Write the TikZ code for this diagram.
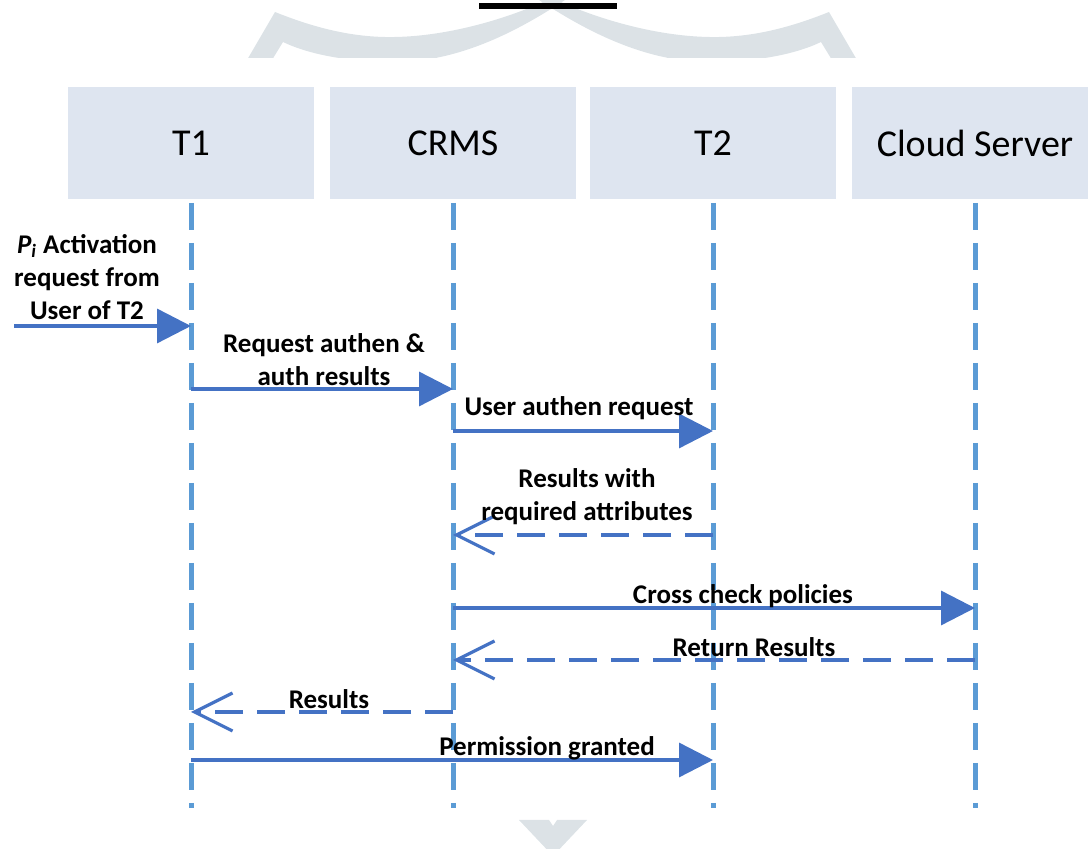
\documentclass[tikz,border=0pt]{standalone}
\usepackage{fontspec}
\setmainfont{Carlito}
\usetikzlibrary{arrows.meta}
\definecolor{hdr}{HTML}{DEE5F0}
\definecolor{lifec}{HTML}{5B9BD5}
\definecolor{msgc}{HTML}{4472C4}
\definecolor{wm}{HTML}{DCE2E6}
\begin{document}
\begin{tikzpicture}[x=0.5pt,y=-0.5pt,
  hdrbox/.style={fill=hdr, draw=none, minimum width=123pt, minimum height=56pt, inner sep=0pt, font=\fontsize{19}{23}\selectfont},
  lifeline/.style={draw=lifec, line width=2.5pt, dash pattern=on 13.5pt off 6.5pt},
  call/.style={draw=msgc, line width=1.7pt, -{Triangle[length=17pt,width=17pt]}},
  reply/.style={draw=msgc, line width=1.6pt, dash pattern=on 14pt off 7pt, -{Straight Barb[length=19pt,width=19pt]}},
  lbl/.style={align=center, inner sep=0pt, font=\fontsize{13.5}{16.5}\selectfont\bfseries},
  wmark/.style={fill=wm, draw=none}]
\clip (0,0) rectangle (1088,849);
% watermark fragments
\begin{scope}
  \clip (0,-5) rectangle (1088,58);
  \fill[wmark] (247,60) -- (275,12) .. controls (310,26) and (350,38) .. (395,37)
     .. controls (450,36) and (510,18) .. (552,-2) -- (568,-2)
     .. controls (520,30) and (460,62) .. (395,62)
     .. controls (350,62) and (310,55) .. (283,42) -- (272,60) -- cycle;
  \fill[wmark] (857,60) -- (829,12) .. controls (794,26) and (754,38) .. (709,37)
     .. controls (654,36) and (594,18) .. (552,-2) -- (536,-2)
     .. controls (584,30) and (644,62) .. (709,62)
     .. controls (754,62) and (794,55) .. (821,42) -- (832,60) -- cycle;
\end{scope}
\fill[wmark] (519,820) -- (549,820) -- (553,826) -- (557,820) -- (587,820) -- (553,856) -- cycle;
\fill[black] (479,3) rectangle (617,9);
% headers
\node[hdrbox] (T1) at (191,143) {T1};
\node[hdrbox] (CRMS) at (453,143) {CRMS};
\node[hdrbox] (T2) at (713,143) {T2};
\node[hdrbox] (CS) at (975,143) {Cloud Server};
% lifelines
\coordinate (ltop) at (0,203);
\coordinate (lbot) at (0,808);
\foreach \n in {T1,CRMS,T2,CS} \draw[lifeline] (\n |- ltop) -- (\n |- lbot);
% message levels
\coordinate (in) at (14,326);
\coordinate (y2) at (0,389);
\coordinate (y3) at (0,431);
\coordinate (y4) at (0,535);
\coordinate (y5) at (0,608);
\coordinate (y6) at (0,660);
\coordinate (y7) at (0,712);
\coordinate (y8) at (0,760);
\draw[call] (in) -- (T1 |- in);
\draw[call] (T1 |- y2) -- (CRMS |- y2);
\draw[call] (CRMS |- y3) -- (T2 |- y3);
\draw[reply] (T2 |- y4) -- (CRMS |- y4);
\draw[call] (CRMS |- y5) -- (CS |- y5);
\draw[reply] (CS |- y6) -- (CRMS |- y6);
\draw[reply] (CRMS |- y7) -- (T1 |- y7);
\draw[call] (T1 |- y8) -- (T2 |- y8);
% labels
\node[lbl] (Lin) at (87,277) {{\itshape P\textsubscript{i}} Activation\\request from\\User of T2};
\node[lbl] (L2) at (324,360) {Request authen \&\\auth results};
\node[lbl] (L3) at (579,408) {User authen request};
\node[lbl] (L4) at (587,497) {Results with\\required attributes};
\node[lbl] (L5) at (743,596) {Cross check policies};
\node[lbl] (L6) at (754,647) {Return Results};
\node[lbl] (L7) at (329,699) {Results};
\node[lbl] (L8) at (547,748) {Permission granted};
\end{tikzpicture}
\end{document}
